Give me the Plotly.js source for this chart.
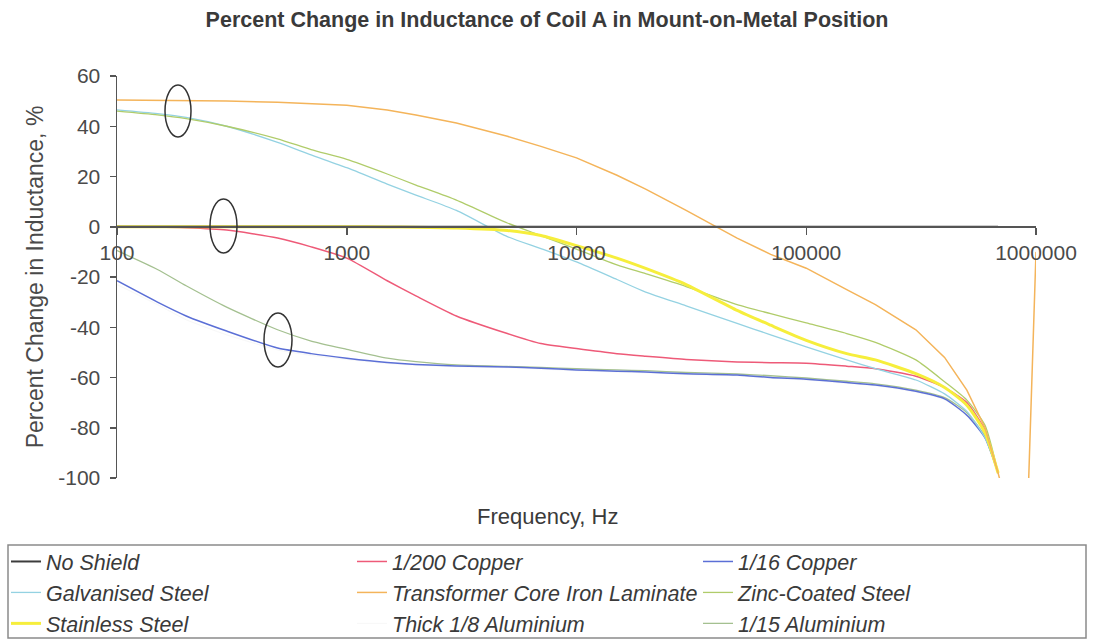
<!DOCTYPE html>
<html>
<head>
<meta charset="utf-8">
<script src="https://cdn.plot.ly/plotly-3.0.1.min.js"></script>
<style>html,body{margin:0;padding:0;background:#fff;}#chart{width:1094px;height:643px;}</style>
</head>
<body>
<div id="chart"></div>
<script>
// Frequencies (Hz)
const freq = [100,150,200,300,500,700,1000,1500,2000,3000,5000,7000,10000,15000,20000,30000,50000,70000,100000,150000,200000,300000,400000,500000,600000,684000];
const freqTransformer = [100,150,200,300,500,700,1000,1500,2000,3000,5000,7000,10000,15000,20000,30000,50000,70000,100000,150000,200000,300000,400000,500000,600000,684000,900000,1000000];

// Percent change in inductance (%)
const noShield      = [0,0,0,0,0,0,0,0,0,0,0,0,0,0,0,0,0,0,0,0,0,0,0,0,0,0];
const copper200     = [0,-0.1,-0.4,-1.3,-4.5,-8,-12.5,-21.5,-27.5,-35.5,-42.5,-46.5,-48.5,-50.5,-51.5,-52.8,-53.8,-54.1,-54.3,-55.5,-56.5,-59.5,-64,-70,-81,-98];
const copper16      = [-21.5,-30,-35.5,-41.5,-48.3,-50.5,-52.3,-54,-54.8,-55.4,-55.8,-56.3,-57,-57.5,-57.8,-58.5,-59,-60,-60.7,-62,-63,-65.5,-68.5,-75,-84,-98];
const galvanised    = [46.5,45,43.5,40,33.6,28.6,23.5,17,12.6,6.5,-3.9,-8.7,-14,-21,-26,-31.5,-38.5,-43,-47.8,-53,-56.5,-61,-66.5,-73.5,-84,-98];
const transformer   = [50.4,50.3,50.2,50,49.6,49,48.4,46.5,44.5,41.3,36,32,27.4,20.5,15,6.5,-4.5,-11,-16.5,-25,-31,-41,-52,-65,-80,-98,-140,-10];
const zincCoated    = [46,44.5,43,40,35,30.7,26.8,21,16.6,10.6,1.5,-3.5,-8.9,-15.2,-18.7,-23.8,-31,-34.6,-38.3,-42.5,-46,-53,-61.7,-69,-79,-98];
const stainless     = [0,0,0,0,0,0,0,-0.1,-0.2,-0.5,-1.5,-3.5,-7.5,-12.5,-16.6,-23,-33.3,-39.2,-45.2,-50.5,-53,-58.5,-64,-71,-82,-98];
const thickAl8      = [-23,-31,-37,-43,-49,-51.2,-52.8,-54.4,-55.1,-55.7,-56.1,-56.6,-57.3,-57.8,-58.1,-58.8,-59.3,-60.3,-61,-62.3,-63.3,-65.8,-68.8,-75.3,-84.3,-98];
const al15          = [-9.5,-17,-23.5,-32,-41,-45.5,-48.8,-52.3,-53.7,-55,-55.6,-56,-56.5,-57,-57.3,-58,-58.6,-59.3,-60.2,-61.5,-62.5,-65,-68,-74,-83.5,-98];

const seriesNames = ["No Shield","1/200 Copper","1/16 Copper","Galvanised Steel","Transformer Core Iron Laminate","Zinc-Coated Steel","Stainless Steel","Thick 1/8 Aluminium","1/15 Aluminium"];
const seriesColors = ["#3c3c3c","#ee5a78","#5b6fd6","#94d2e2","#f4b45a","#b0cc6a","#f6ee3c","#f7f7f7","#a4c090"];
const seriesWidths = [2,1.5,1.5,1.3,1.5,1.3,3,1,1.3];

const xTickVals = [100,1000,10000,100000,1000000];
const xTickText = ["100","1000","10000","100000","1000000"];
const yTickVals = [-100,-80,-60,-40,-20,0,20,40,60];
const yTickText = ["-100","-80","-60","-40","-20","0","20","40","60"];

const xs = [freq,freq,freq,freq,freqTransformer,freq,freq,freq,freq];
const ys = [noShield,copper200,copper16,galvanised,transformer,zincCoated,stainless,thickAl8,al15];
const drawOrder = [7,8,2,1,3,5,6,4,0];

const FONT = "Liberation Sans, Arial, sans-serif";
const traces = drawOrder.map(i => ({
  type: "scatter", mode: "lines", name: seriesNames[i],
  x: xs[i], y: ys[i], legendrank: i + 1,
  line: {color: seriesColors[i], width: seriesWidths[i], shape: i === 4 ? "linear" : "spline", smoothing: 0.6},
  hoverinfo: "x+y+name"
}));

const W = 919, H = 402;
function px(x){ return (x - 117) / W; }
function py(y){ return (478 - y) / H; }

const layout = {
  width: 1094, height: 643,
  paper_bgcolor: "#ffffff", plot_bgcolor: "#ffffff",
  margin: {l: 117, r: 58, t: 76, b: 165, autoexpand: false},
  font: {family: FONT, color: "#4a4a4a"},
  title: {text: "Percent Change in Inductance of Coil A in Mount-on-Metal Position",
          font: {family: FONT, size: 21.5, weight: "bold", color: "#3a3a3a"},
          x: 0.5, xref: "container", xanchor: "center", y: 1 - 19/643, yref: "container", yanchor: "middle"},
  showlegend: true,
  legend: {orientation: "h", x: px(6), xanchor: "left", y: py(541), yanchor: "top",
           entrywidth: 301, entrywidthmode: "pixels",
           font: {family: FONT, size: 21.5, style: "italic", color: "#3a3a3a"},
           borderwidth: 0, bgcolor: "rgba(255,255,255,0)", traceorder: "normal"},
  xaxis: {type: "log", range: [2, 6], anchor: "free", position: 0.625,
          tickvals: xTickVals, ticktext: xTickText,
          ticks: "outside", ticklen: 7, tickwidth: 1.5, tickcolor: "#555",
          showline: true, linecolor: "#555", linewidth: 2,
          showgrid: false, zeroline: false,
          tickfont: {family: FONT, size: 21, color: "#4a4a4a"}},
  yaxis: {range: [-100, 60], tickvals: yTickVals, ticktext: yTickText,
          ticks: "outside", ticklen: 6, tickwidth: 1.5, tickcolor: "#555",
          showline: true, linecolor: "#555", linewidth: 1.5,
          showgrid: false, zeroline: false, ticklabelstandoff: 5,
          tickfont: {family: FONT, size: 21, color: "#4a4a4a"},
          title: {text: "Percent Change in Inductance, %", standoff: 8,
                  font: {family: FONT, size: 23, color: "#4a4a4a"}}},
  annotations: [{text: "Frequency, Hz", xref: "paper", yref: "paper",
                 x: px(547), y: py(516), xanchor: "center", yanchor: "middle", showarrow: false,
                 font: {family: FONT, size: 22, color: "#3a3a3a"}}],
  shapes: [
    {type: "rect", xref: "paper", yref: "paper", x0: px(8), x1: px(1086), y0: py(638), y1: py(545), line: {color: "#8a8a8a", width: 1.5}, layer: "below"},
    {type: "circle", xref: "paper", yref: "paper", x0: px(165), x1: px(191), y0: py(137), y1: py(85), line: {color: "#333", width: 1.5}},
    {type: "circle", xref: "paper", yref: "paper", x0: px(210), x1: px(237), y0: py(253), y1: py(199), line: {color: "#333", width: 1.5}},
    {type: "circle", xref: "paper", yref: "paper", x0: px(264), x1: px(292), y0: py(367), y1: py(313), line: {color: "#333", width: 1.5}}
  ]
};

Plotly.newPlot("chart", traces, layout, {displayModeBar: false, staticPlot: true});
</script>
</body>
</html>
